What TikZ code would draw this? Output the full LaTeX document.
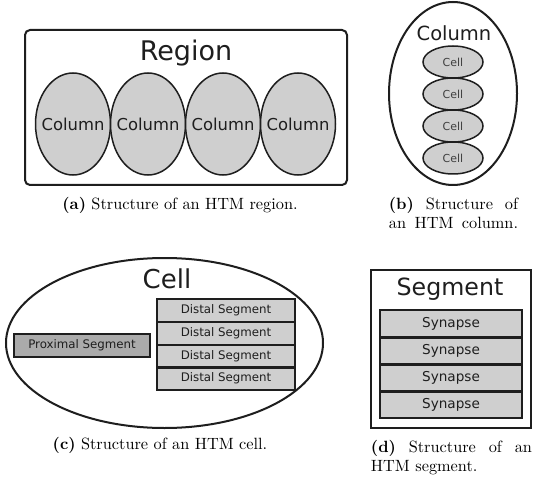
\documentclass[tikz,border=0pt]{standalone}
\usepackage{fontspec}
\newfontfamily\dv{DejaVu Sans}
\usetikzlibrary{shapes.geometric}
\definecolor{lightg}{HTML}{CFCFCF}
\definecolor{darkg}{HTML}{ABABAB}
\definecolor{ink}{HTML}{1E1E1E}
\begin{document}
\begin{tikzpicture}[x=1pt,y=-1pt,
  outer/.style={draw=ink, line width=2pt, inner sep=0pt},
  innerell/.style={draw=ink, line width=1.5pt, fill=lightg, ellipse, inner sep=0pt},
  innerbox/.style={draw=ink, line width=1.6pt, fill=lightg, rectangle, inner sep=0pt},
  sepline/.style={draw=ink, line width=1.6pt},
  title/.style={text=ink, inner sep=0pt, font=\dv},
  captxt/.style={inner sep=0pt, scale=1.63, transform shape, font=\fontsize{10}{12}\selectfont, align=center}
]
\useasboundingbox (0,0) rectangle (548,494);

% (a) Region
\node[outer, rectangle, rounded corners=5pt, minimum width=322pt, minimum height=155pt] (region) at (186,107.5) {};
\node[title, font=\dv\fontsize{27}{30}\selectfont] (regiont) at (186,53) {Region};
\foreach \i/\x in {1/73,2/148,3/223,4/298}{
  \node[innerell, minimum width=75pt, minimum height=102pt] (col\i) at (\x,124) {};
  \node[title, font=\dv\fontsize{16.4}{18}\selectfont] (col\i t) at (col\i.center) {Column};
}
\node[captxt] (capa) at (180,205) {\textbf{(a)} Structure of an HTM region.};

% (b) Column
\node[outer, ellipse, minimum width=128pt, minimum height=183pt] (column) at (453,93.5) {};
\node[title, font=\dv\fontsize{19.5}{22}\selectfont] (columnt) at (454,33) {Column};
\foreach \i/\y in {1/62,2/94,3/126,4/158}{
  \node[innerell, minimum width=60pt, minimum height=32pt] (cell\i) at (453,\y) {};
  \node[title, font=\dv\fontsize{11}{13}\selectfont, text=ink!85] (cell\i t) at (cell\i.center) {Cell};
}
\node[captxt, align=left] (capb) at (453.5,213) {\makebox[79.2pt][s]{\textbf{(b)} Structure of}\\\makebox[79.2pt][s]{an HTM column.}};

% (c) Cell
\node[outer, ellipse, minimum width=317pt, minimum height=170pt] (cellout) at (164.5,343) {};
\node[title, font=\dv\fontsize{26}{29}\selectfont] (cellt) at (167,279) {Cell};
\node[innerbox, fill=darkg, minimum width=136pt, minimum height=23pt, font=\dv\fontsize{11.8}{14}\selectfont, text=ink] (prox) at (82,345.5) {Proximal Segment};
\foreach \i/\y in {1/310.4,2/333.1,3/355.8,4/378.5}{
  \node[innerbox, minimum width=138pt, minimum height=22.7pt, font=\dv\fontsize{11.8}{14}\selectfont, text=ink] (dist\i) at (226,\y) {Distal Segment};
}
\foreach \i in {1,2,3}{
  \draw[sepline] (dist\i.south west) -- (dist\i.south east);
}
\node[captxt] (capc) at (160,445) {\textbf{(c)} Structure of an HTM cell.};

% (d) Segment
\node[outer, rectangle, minimum width=160pt, minimum height=158pt] (segment) at (451,349) {};
\node[title, font=\dv\fontsize{23.7}{26}\selectfont] (segmentt) at (450,289) {Segment};
\foreach \i/\y in {1/323.5,2/350.5,3/377.5,4/404.5}{
  \node[innerbox, minimum width=142pt, minimum height=27pt, font=\dv\fontsize{13.6}{16}\selectfont, text=ink] (syn\i) at (451,\y) {Synapse};
}
\foreach \i in {1,2,3}{
  \draw[sepline] (syn\i.south west) -- (syn\i.south east);
}
\node[captxt, align=left] (capd) at (451.5,457.5) {\makebox[98.8pt][s]{\textbf{(d)} Structure of an}\\HTM segment.};
\end{tikzpicture}
\end{document}
